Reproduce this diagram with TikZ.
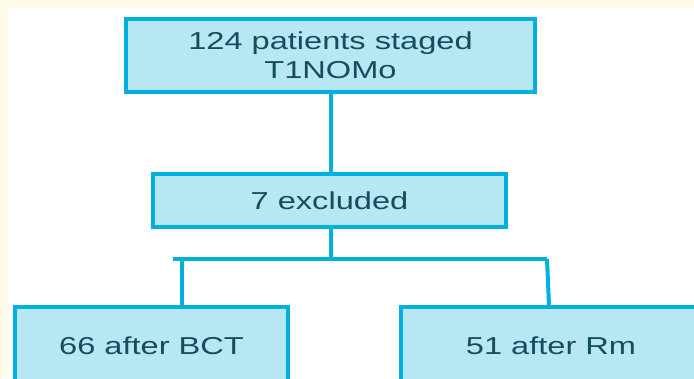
\documentclass[tikz,border=0pt]{standalone}
\usepackage{fontspec}
\newfontfamily\flowfont[FakeStretch=1.33]{Liberation Sans}
\definecolor{cream}{HTML}{FFFBE6}
\definecolor{boxline}{HTML}{00B0DF}
\definecolor{boxfill}{HTML}{B8E7F4}
\definecolor{boxtext}{HTML}{124E5E}
\begin{document}
\begin{tikzpicture}[x=1pt,y=-1pt,line cap=butt,line join=miter]
	\tikzset{flowbox/.style={draw=boxline,fill=boxfill,line width=4pt,inner sep=0pt,
			text=boxtext,align=center,font=\flowfont\fontsize{24.5}{29}\selectfont},
		link/.style={draw=boxline,line width=4pt}
	}
	\useasboundingbox (0,0) rectangle (694,378);
	\fill[cream] (0,0) rectangle (694,378);
	\fill[white] (8,8) rectangle (694,378);
	\node[flowbox,minimum width=409pt,minimum height=73pt] (staged) at (330.5,55.5) {124 patients staged\\T1NOMo};
	\node[flowbox,minimum width=353pt,minimum height=53pt] (excl) at (329.5,200.5) {7 excluded};
	\node[flowbox,minimum width=273pt,minimum height=78pt] (bct) at (151.5,346) {66 after BCT};
	\node[flowbox,minimum width=300pt,minimum height=78pt] (rm) at (551,346) {51 after Rm};
	\coordinate (split) at (331,259);
	\coordinate (barL) at (173,259);
	\coordinate (barR) at (547,259);
	\coordinate (dropL) at (182,259);
	\draw[link] (staged.south-|split) -- (excl.north-|split);
	\draw[link] (excl.south-|split) -- (split);
	\draw[link] (barL) -- (barR);
	\draw[link] (dropL) -- (dropL|-bct.north);
	\draw[link] (barR) -- (549,0|-rm.north);
\end{tikzpicture}
\end{document}
